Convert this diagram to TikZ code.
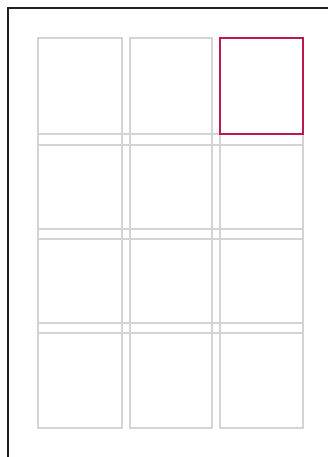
\documentclass[tikz,border=0pt]{standalone}
\definecolor{pickred}{RGB}{184,28,74}
\begin{document}
\begin{tikzpicture}[
  x=0.03cm, y=-0.03cm,
  frame/.style={draw=black!87, line width=2pt},
  gridline/.style={draw=black!17, line width=2.1pt},
  pick/.style={draw=pickred, line width=2.4pt}
]
\useasboundingbox (0,0) rectangle (327,457);
% page corner
\coordinate (pagebl) at (8,462);
\coordinate (pagetl) at (8,8);
\coordinate (pagetr) at (332,8);
\draw[frame] (pagebl) -- (pagetl) -- (pagetr);
% columns
\foreach \xl/\xr in {38/122, 130/212, 220/303}
  \draw[gridline] (\xl,38) rectangle (\xr,428);
% row gutters
\foreach \yy in {134,145,229,239,323,333}
  \draw[gridline] (38,\yy) -- (303,\yy);
% selected cell
\draw[pick] (220,38) rectangle (303,134);
\end{tikzpicture}
\end{document}
